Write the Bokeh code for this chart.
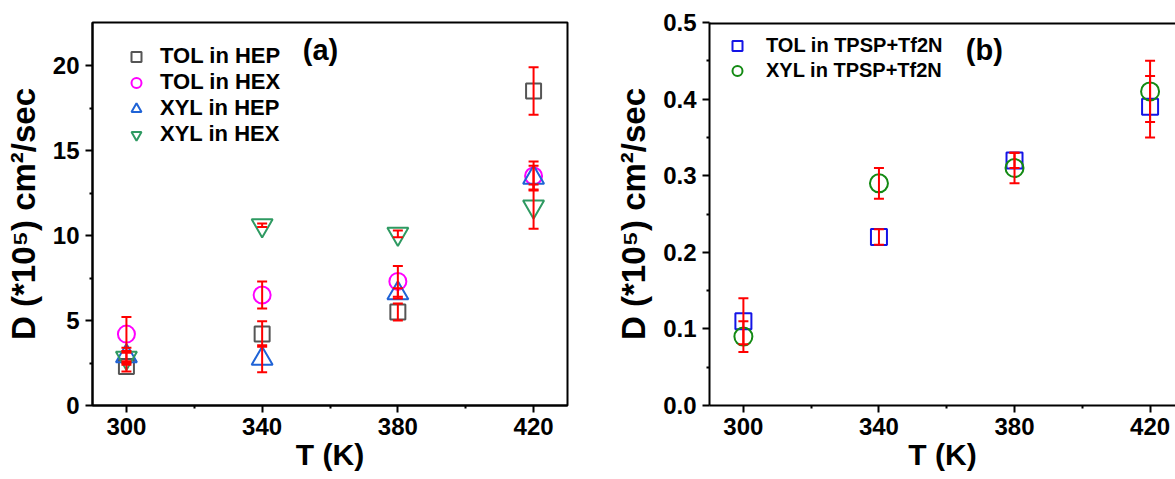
from bokeh.plotting import figure
from bokeh.models import (ColumnDataSource, Whisker, Legend, LegendItem, Label, Span,
                          Range1d, FixedTicker, PrintfTickFormatter)
from bokeh.layouts import row
from bokeh.embed import file_html
from bokeh.resources import INLINE

# ---------------- data ----------------
T = [300, 340, 380, 420]
x_ticks = [300, 340, 380, 420]
x_minor = [320, 360, 400, 440]

# panel (a)
tol_hep = [2.3, 4.2, 5.5, 18.5]
tol_hep_err = [0.3, 0.75, 0.5, 1.4]
tol_hex = [4.2, 6.5, 7.3, 13.5]
tol_hex_err = [1.0, 0.8, 0.9, 0.85]
xyl_hep = [2.9, 2.75, 6.6, 13.4]
xyl_hep_err = [0.5, 0.8, 0.3, 0.7]
xyl_hex = [2.8, 10.6, 10.1, 11.7]
xyl_hex_err = [0.3, 0.1, 0.2, 1.3]
ya_ticks = [0, 5, 10, 15, 20]
ya_minor = [2.5, 7.5, 12.5, 17.5]

# panel (b)
tol_tpsp = [0.11, 0.22, 0.32, 0.39]
tol_tpsp_err = [0.03, 0.01, 0.01, 0.04]
xyl_tpsp = [0.09, 0.29, 0.31, 0.41]
xyl_tpsp_err = [0.02, 0.02, 0.02, 0.04]
yb_ticks = [0.0, 0.1, 0.2, 0.3, 0.4, 0.5]
yb_minor = [0.05, 0.15, 0.25, 0.35, 0.45]

FONT = "Liberation Sans"
YLABEL = "D (*10\u2075) cm\u00b2/sec"


def style(p, yt, ym):
    p.outline_line_color = "black"
    p.outline_line_width = 2
    p.xgrid.visible = False
    p.ygrid.visible = False
    p.background_fill_color = "white"
    p.border_fill_color = "white"
    p.xaxis.ticker = FixedTicker(ticks=x_ticks, minor_ticks=x_minor)
    p.yaxis.ticker = FixedTicker(ticks=yt, minor_ticks=ym)
    for ax in [p.xaxis[0], p.yaxis[0]]:
        ax.axis_line_width = 2
        ax.axis_line_color = "black"
        ax.major_tick_line_width = 2
        ax.minor_tick_line_width = 2
        ax.major_tick_out = 7
        ax.major_tick_in = 0
        ax.minor_tick_out = 3
        ax.minor_tick_in = 0
        ax.major_label_text_font = FONT
        ax.major_label_text_font_style = "bold"
        ax.major_label_text_font_size = "24px"
        ax.major_label_text_color = "black"
        ax.axis_label_text_font = FONT
        ax.axis_label_text_font_style = "bold"
        ax.axis_label_text_color = "black"
    p.xaxis.axis_label_text_font_size = "30px"
    p.yaxis.axis_label_text_font_size = "33px"
    p.xaxis.major_label_standoff = 5
    p.yaxis.major_label_standoff = 6
    p.xaxis.axis_label_standoff = 0
    p.yaxis.axis_label_standoff = 8


def whisker(p, vals, errs):
    src = ColumnDataSource(dict(x=T,
                                lower=[v - e for v, e in zip(vals, errs)],
                                upper=[v + e for v, e in zip(vals, errs)]))
    w = Whisker(source=src, base="x", lower="lower", upper="upper",
                line_color="#ff0000", line_width=2, level="overlay")
    for h in (w.upper_head, w.lower_head):
        h.size = 10
        h.line_color = "#ff0000"
        h.line_width = 2
    p.add_layout(w)


# ---------------- panel (a) ----------------
pa = figure(width=600, height=479, output_backend="svg", toolbar_location=None,
            x_range=Range1d(290, 430), y_range=Range1d(0, 22.53),
            min_border_left=92, min_border_right=33, min_border_top=22, min_border_bottom=74)
style(pa, ya_ticks, ya_minor)
pa.xaxis.axis_label = "T (K)"
pa.yaxis.axis_label = YLABEL

r1 = pa.scatter(T, tol_hep, marker="square", size=15, fill_color=None, line_color="#555555", line_width=2)
r2 = pa.scatter(T, tol_hex, marker="circle", size=17, fill_color=None, line_color="#ff00ff", line_width=2)
r3 = pa.scatter(T, xyl_hep, marker="triangle", size=21, fill_color=None, line_color="#1f63d6", line_width=2)
r4 = pa.scatter(T, xyl_hex, marker="inverted_triangle", size=21, fill_color=None, line_color="#2f9a62", line_width=2)
for v, e in [(tol_hep, tol_hep_err), (tol_hex, tol_hex_err), (xyl_hep, xyl_hep_err), (xyl_hex, xyl_hex_err)]:
    whisker(pa, v, e)

leg_a = Legend(items=[LegendItem(label="TOL in HEP", renderers=[r1]),
                      LegendItem(label="TOL in HEX", renderers=[r2]),
                      LegendItem(label="XYL in HEP", renderers=[r3]),
                      LegendItem(label="XYL in HEX", renderers=[r4])],
               location=(24, 258), glyph_width=40, glyph_height=25, label_height=25, spacing=0,
               label_standoff=4, padding=0, margin=0,
               background_fill_alpha=0, border_line_color=None,
               label_text_font=FONT, label_text_font_style="bold", label_text_font_size="22px",
               label_text_color="black")
pa.add_layout(leg_a)
pa.add_layout(Label(x=357.2, y=20.9, text="(a)", text_font=FONT, text_font_style="bold",
                    text_font_size="29px", text_align="center", text_baseline="middle",
                    text_color="black"))

# ---------------- panel (b) ----------------
pb = figure(width=575, height=479, output_backend="svg", toolbar_location=None,
            x_range=Range1d(290, 427.5), y_range=Range1d(0, 0.5),
            min_border_left=109, min_border_right=0, min_border_top=22, min_border_bottom=74)
style(pb, yb_ticks, yb_minor)
pb.outline_line_color = None
pb.add_layout(Span(location=0.5, dimension="width", line_color="black", line_width=4))
pb.yaxis.formatter = PrintfTickFormatter(format="%.1f")
pb.xaxis.axis_label = "T (K)"
pb.yaxis.axis_label = YLABEL

s1 = pb.scatter(T, tol_tpsp, marker="square", size=16, fill_color=None, line_color="#1414e6", line_width=2)
s2 = pb.scatter(T, xyl_tpsp, marker="circle", size=18, fill_color=None, line_color="#138a13", line_width=2)
whisker(pb, tol_tpsp, tol_tpsp_err)
whisker(pb, xyl_tpsp, xyl_tpsp_err)

leg_b = Legend(items=[LegendItem(label="TOL in TPSP+Tf2N", renderers=[s1]),
                      LegendItem(label="XYL in TPSP+Tf2N", renderers=[s2])],
               location=(8, 322), glyph_width=40, glyph_height=25, label_height=25, spacing=0,
               label_standoff=9, padding=0, margin=0,
               background_fill_alpha=0, border_line_color=None,
               label_text_font=FONT, label_text_font_style="bold", label_text_font_size="20px",
               label_text_color="black")
pb.add_layout(leg_b)
pb.add_layout(Label(x=371.1, y=0.464, text="(b)", text_font=FONT, text_font_style="bold",
                    text_font_size="29px", text_align="center", text_baseline="middle",
                    text_color="black"))

layout = row(pa, pb)
open("out.html", "w").write(file_html(layout, INLINE))
